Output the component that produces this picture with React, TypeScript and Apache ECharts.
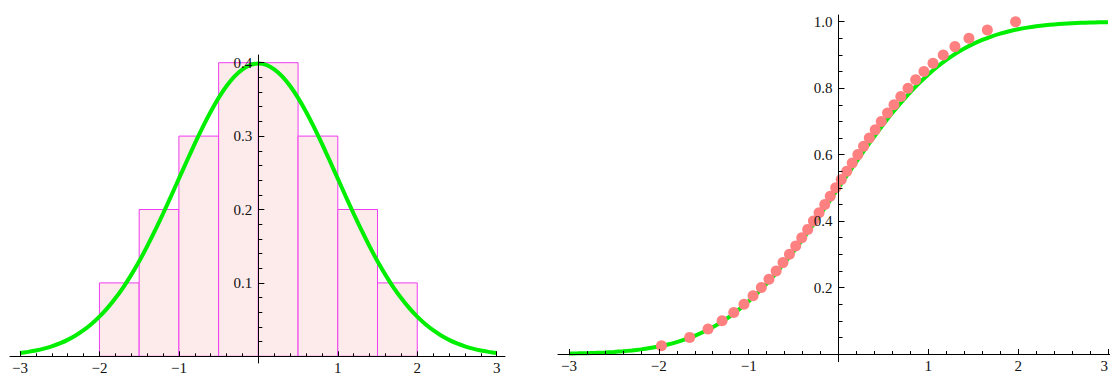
import React, { useEffect, useRef } from "react";
import * as echarts from "echarts";

// ---------- data ----------
const curveX = [
  -3.0, -2.9, -2.8, -2.7, -2.6, -2.5, -2.4, -2.3, -2.2, -2.1,
  -2.0, -1.9, -1.8, -1.7, -1.6, -1.5, -1.4, -1.3, -1.2, -1.1,
  -1.0, -0.9, -0.8, -0.7, -0.6, -0.5, -0.4, -0.3, -0.2, -0.1,
  0.0, 0.1, 0.2, 0.3, 0.4, 0.5, 0.6, 0.7, 0.8, 0.9,
  1.0, 1.1, 1.2, 1.3, 1.4, 1.5, 1.6, 1.7, 1.8, 1.9,
  2.0, 2.1, 2.2, 2.3, 2.4, 2.5, 2.6, 2.7, 2.8, 2.9, 3.0,
];
const pdfValues = [
  0.0044, 0.006, 0.0079, 0.0104, 0.0136, 0.0175, 0.0224, 0.0283, 0.0355, 0.044,
  0.054, 0.0656, 0.079, 0.094, 0.1109, 0.1295, 0.1497, 0.1714, 0.1942, 0.2179,
  0.242, 0.2661, 0.2897, 0.3123, 0.3332, 0.3521, 0.3683, 0.3814, 0.391, 0.397,
  0.3989, 0.397, 0.391, 0.3814, 0.3683, 0.3521, 0.3332, 0.3123, 0.2897, 0.2661,
  0.242, 0.2179, 0.1942, 0.1714, 0.1497, 0.1295, 0.1109, 0.094, 0.079, 0.0656,
  0.054, 0.044, 0.0355, 0.0283, 0.0224, 0.0175, 0.0136, 0.0104, 0.0079, 0.006, 0.0044,
];
const cdfValues = [
  0.0013, 0.0019, 0.0026, 0.0035, 0.0047, 0.0062, 0.0082, 0.0107, 0.0139, 0.0179,
  0.0228, 0.0287, 0.0359, 0.0446, 0.0548, 0.0668, 0.0808, 0.0968, 0.1151, 0.1357,
  0.1587, 0.1841, 0.2119, 0.242, 0.2743, 0.3085, 0.3446, 0.3821, 0.4207, 0.4602,
  0.5, 0.5398, 0.5793, 0.6179, 0.6554, 0.6915, 0.7257, 0.758, 0.7881, 0.8159,
  0.8413, 0.8643, 0.8849, 0.9032, 0.9192, 0.9332, 0.9452, 0.9554, 0.9641, 0.9713,
  0.9772, 0.9821, 0.9861, 0.9893, 0.9918, 0.9938, 0.9953, 0.9965, 0.9974, 0.9981, 0.9987,
];

const binStart = [-2, -1.5, -1, -0.5, 0, 0.5, 1, 1.5];
const binEnd = [-1.5, -1, -0.5, 0, 0.5, 1, 1.5, 2];
const binHeight = [0.1, 0.2, 0.3, 0.4, 0.4, 0.3, 0.2, 0.1];

const pointX = [
  -1.971, -1.657, -1.452, -1.296, -1.166, -1.052, -0.951, -0.859, -0.774, -0.694,
  -0.618, -0.546, -0.476, -0.409, -0.343, -0.279, -0.216, -0.153, -0.092, -0.031,
  0.031, 0.092, 0.153, 0.216, 0.279, 0.343, 0.409, 0.476, 0.546, 0.618,
  0.694, 0.774, 0.859, 0.951, 1.052, 1.166, 1.296, 1.452, 1.657, 1.971,
];
const pointY = [
  0.025, 0.05, 0.075, 0.1, 0.125, 0.15, 0.175, 0.2, 0.225, 0.25,
  0.275, 0.3, 0.325, 0.35, 0.375, 0.4, 0.425, 0.45, 0.475, 0.5,
  0.525, 0.55, 0.575, 0.6, 0.625, 0.65, 0.675, 0.7, 0.725, 0.75,
  0.775, 0.8, 0.825, 0.85, 0.875, 0.9, 0.925, 0.95, 0.975, 1.0,
];

const xTicks = { min: -3, max: 3, interval: 1 };
const leftYTicks = { min: 0, max: 0.4, interval: 0.1 };
const rightYTicks = { min: 0, max: 1, interval: 0.2 };

// ---------- styling ----------
const FONT = "Liberation Serif";
const TEXT = "#111";
const GREEN = "#00ee00";
const PINK = "#ff8080";
const FS = 15;

const fmtX = (v: number) => (Math.abs(v) < 1e-9 ? "" : v < 0 ? "\u2212" + Math.abs(v) : String(v));
const fmtY = (v: number) => (Math.abs(v) < 1e-9 ? "" : v.toFixed(1));

function tickAxisX(gridIndex: number, alignMax?: string) {
  const label: any = {
    show: true,
    formatter: fmtX,
    fontFamily: FONT,
    fontSize: FS,
    color: TEXT,
    margin: 4,
    showMinLabel: true,
    showMaxLabel: true,
  };
  if (alignMax) label.alignMaxLabel = alignMax;
  return {
    type: "value",
    gridIndex,
    z: 10,
    min: xTicks.min,
    max: xTicks.max,
    interval: xTicks.interval,
    axisLine: { show: false, onZero: false },
    axisTick: { show: true, inside: true, length: 5, lineStyle: { color: "#000", width: 1 } },
    minorTick: { show: true, splitNumber: 5, length: 3, lineStyle: { color: "#000", width: 1 } },
    splitLine: { show: false },
    minorSplitLine: { show: false },
    axisLabel: label,
  };
}

function hiddenAxis(gridIndex: number, min: number, max: number) {
  return {
    type: "value",
    gridIndex,
    min,
    max,
    show: false,
    axisLine: { show: false, onZero: false },
    axisTick: { show: false },
    splitLine: { show: false },
    axisLabel: { show: false },
  };
}

function tickAxisY(gridIndex: number, t: { min: number; max: number; interval: number }, minorSplit: number) {
  return {
    type: "value",
    gridIndex,
    z: 10,
    position: "left",
    min: t.min,
    max: t.max,
    interval: t.interval,
    axisLine: { show: false, onZero: false },
    axisTick: { show: true, inside: true, length: 6, lineStyle: { color: "#000", width: 1 } },
    minorTick: { show: true, splitNumber: minorSplit, length: 4, lineStyle: { color: "#000", width: 1 } },
    splitLine: { show: false },
    minorSplitLine: { show: false },
    axisLabel: {
      show: true,
      formatter: fmtY,
      fontFamily: FONT,
      fontSize: FS,
      color: TEXT,
      margin: 6,
    },
  };
}

function lineAxis(gridIndex: number, min: number, max: number) {
  return {
    type: "value",
    gridIndex,
    z: 10,
    min,
    max,
    axisLine: { show: true, onZero: true, lineStyle: { color: "#000", width: 1 } },
    axisTick: { show: false },
    minorTick: { show: false },
    splitLine: { show: false },
    axisLabel: { show: false },
  };
}

export default function App() {
  const ref = useRef<HTMLDivElement>(null);

  useEffect(() => {
    if (!ref.current) return;
    const chart = echarts.init(ref.current, null, { renderer: "svg" });

    const histData = binStart.map((s, i) => [s, binEnd[i], binHeight[i]]);
    const pdfData = curveX.map((x, i) => [x, pdfValues[i]]);
    const cdfData = curveX.map((x, i) => [x, cdfValues[i]]);
    const pts = pointX.map((x, i) => [x, pointY[i]]);

    const g = (left: number, top: number, width: number, height: number) => ({
      left, top, width, height, outerBoundsMode: "none", containLabel: false,
    });

    const option: any = {
      animation: false,
      backgroundColor: "#fff",
      grid: [
        g(20, 62.7, 476.7, 293.6),   // 0 left panel: data + x ticks
        g(10, 55, 495, 308),         // 1 left panel: extended axis lines
        g(569, 21.7, 539, 332.3),    // 2 right panel: data + x ticks
        g(558, 15, 552, 346.7),      // 3 right panel: extended axis lines
        g(258.35, 62.7, 100, 293.6), // 4 left panel: y ticks/labels at x = 0
        g(838.5, 21.7, 100, 332.3),  // 5 right panel: y ticks/labels at x = 0
      ],
      xAxis: [
        tickAxisX(0),
        lineAxis(1, -3.126, 3.104),
        tickAxisX(2, "right"),
        lineAxis(3, -3.1225, 3.0223),
        hiddenAxis(4, 0, 1),
        hiddenAxis(5, 0, 1),
      ],
      yAxis: [
        hiddenAxis(0, leftYTicks.min, leftYTicks.max),
        lineAxis(1, -0.0088, 0.4105),
        hiddenAxis(2, rightYTicks.min, rightYTicks.max),
        lineAxis(3, -0.0232, 1.0202),
        tickAxisY(4, leftYTicks, 5),
        tickAxisY(5, rightYTicks, 4),
      ],
      series: [
        {
          type: "custom",
          xAxisIndex: 0,
          yAxisIndex: 0,
          data: histData,
          encode: { x: [0, 1], y: 2 },
          clip: false,
          z: 1,
          renderItem: (params: any, api: any) => {
            const x0 = api.value(0);
            const x1 = api.value(1);
            const h = api.value(2);
            const p0 = api.coord([x0, h]);
            const p1 = api.coord([x1, 0]);
            return {
              type: "rect",
              shape: { x: p0[0], y: p0[1], width: p1[0] - p0[0], height: p1[1] - p0[1] },
              style: { fill: "#fdeaea", stroke: "#f03cf0", lineWidth: 1 },
            };
          },
        },
        {
          type: "line",
          xAxisIndex: 0,
          yAxisIndex: 0,
          data: pdfData,
          showSymbol: false,
          smooth: 0.2,
          clip: false,
          lineStyle: { color: GREEN, width: 4 },
          z: 3,
        },
        {
          type: "line",
          xAxisIndex: 2,
          yAxisIndex: 2,
          data: cdfData,
          showSymbol: false,
          smooth: 0.2,
          clip: false,
          lineStyle: { color: GREEN, width: 4 },
          z: 3,
        },
        {
          type: "scatter",
          xAxisIndex: 2,
          yAxisIndex: 2,
          data: pts,
          symbol: "circle",
          symbolSize: 11,
          clip: false,
          itemStyle: { color: PINK, opacity: 1 },
          z: 4,
        },
      ],
    };

    chart.setOption(option);
    return () => chart.dispose();
  }, []);

  return (
    <div
      ref={ref}
      style={{ position: "fixed", left: 0, top: 0, width: 1110, height: 376, background: "#fff" }}
    />
  );
}
